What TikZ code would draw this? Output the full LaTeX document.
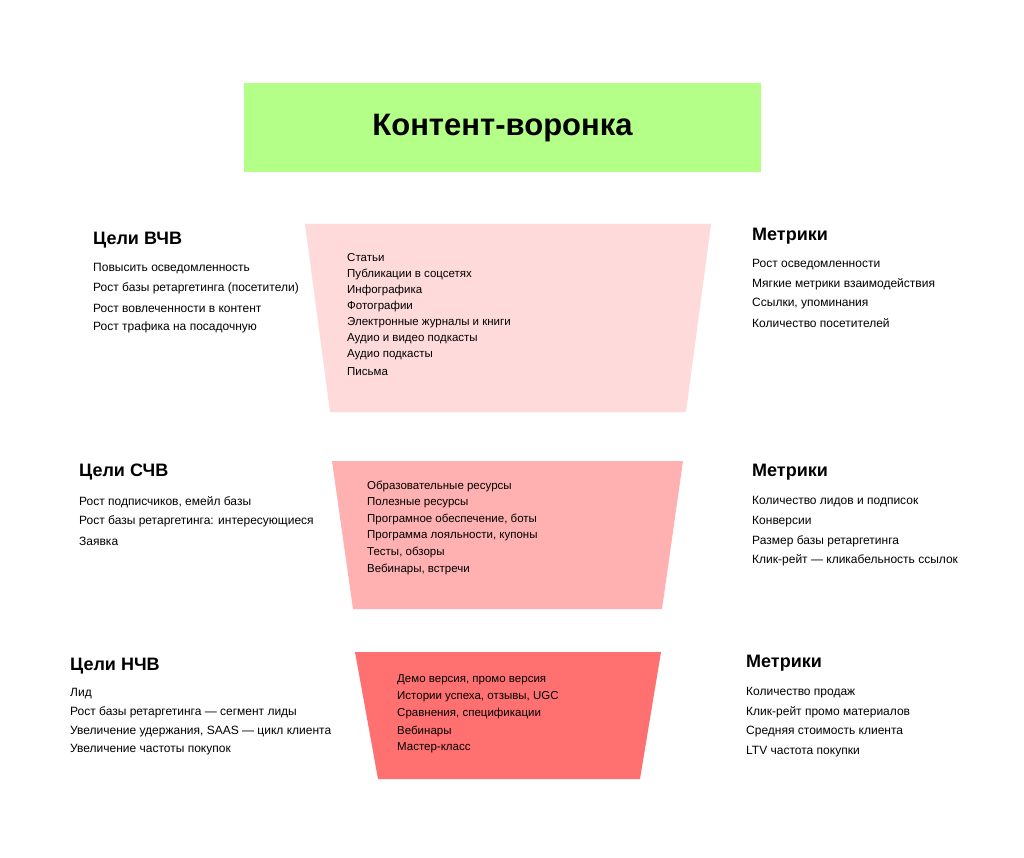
\documentclass[tikz,border=0pt]{standalone}
\usepackage{fontspec}
\setmainfont{Liberation Sans}
\begin{document}
\begin{tikzpicture}[x=1pt,y=-1pt,
 item/.style={anchor=west,inner sep=0pt,font=\fontsize{12}{14}\selectfont},
 fitem/.style={anchor=west,inner sep=0pt,font=\fontsize{11.5}{13}\selectfont},
 head/.style={anchor=west,inner sep=0pt,font=\fontsize{18}{20}\selectfont\bfseries}]
\useasboundingbox (0,0) rectangle (1024,858);
\fill[fill=white] (0,0) rectangle (1024,858);
\definecolor{tg}{HTML}{B3FF88}
\definecolor{f1}{HTML}{FFDADA}
\definecolor{f2}{HTML}{FFB0B0}
\definecolor{f3}{HTML}{FF7070}
\fill[tg] (244,83) rectangle (761,172);
\node[inner sep=0pt,font=\fontsize{31}{34}\selectfont\bfseries] (title) at (502.5,128) {Контент-воронка};
\fill[f1] (305,224) -- (711,224) -- (686,412) -- (330,412) -- cycle;
\fill[f2] (332,461) -- (683,461) -- (662,609) -- (353,609) -- cycle;
\fill[f3] (355,652) -- (661,652) -- (640,779) -- (378,779) -- cycle;
% top
\node[head] (h1) at (93,240) {Цели ВЧВ};
\foreach \t [count=\i] in {Повысить осведомленность,Рост базы ретаргетинга (посетители),Рост вовлеченности в контент,Рост трафика на посадочную}
 \node[item] (l1\i) at (93,{269+(\i-1)*19.6}) {\t};
\node[head] (m1) at (752,236) {Метрики};
\foreach \t [count=\i] in {Рост осведомленности,Мягкие метрики взаимодействия,{Ссылки, упоминания},Количество посетителей}
 \node[item] (r1\i) at (752,{265+(\i-1)*19.4}) {\t};
\foreach \t [count=\i] in {Статьи,Публикации в соцсетях,Инфографика,Фотографии,Электронные журналы и книги,Аудио и видео подкасты,Аудио подкасты,Письма}
 \node[fitem] (c1\i) at (347,{258+(\i-1)*16.2}) {\t};
% middle
\node[head] (h2) at (79,472) {Цели СЧВ};
\foreach \t [count=\i] in {{Рост подписчиков, емейл базы},Рост базы ретаргетинга: интересующиеся,Заявка}
 \node[item] (l2\i) at (79,{502+(\i-1)*19.5}) {\t};
\node[head] (m2) at (752,472) {Метрики};
\foreach \t [count=\i] in {Количество лидов и подписок,Конверсии,Размер базы ретаргетинга,Клик-рейт — кликабельность ссылок}
 \node[item] (r2\i) at (752,{502+(\i-1)*19.5}) {\t};
\foreach \t [count=\i] in {Образовательные ресурсы,Полезные ресурсы,{Програмное обеспечение, боты},{Программа лояльности, купоны},{Тесты, обзоры},{Вебинары, встречи}}
 \node[fitem] (c2\i) at (367,{486+(\i-1)*16.6}) {\t};
% bottom
\node[head] (h3) at (70,666) {Цели НЧВ};
\foreach \t [count=\i] in {Лид,Рост базы ретаргетинга — сегмент лиды,{Увеличение удержания, SAAS — цикл клиента},Увеличение частоты покупок}
 \node[item] (l3\i) at (70,{694+(\i-1)*18.7}) {\t};
\node[head] (m3) at (746,663) {Метрики};
\foreach \t [count=\i] in {Количество продаж,Клик-рейт промо материалов,Средняя стоимость клиента,LTV частота покупки}
 \node[item] (r3\i) at (746,{693+(\i-1)*19.4}) {\t};
\foreach \t [count=\i] in {{Демо версия, промо версия},{Истории успеха, отзывы, UGC},{Сравнения, спецификации},Вебинары,Мастер-класс}
 \node[fitem] (c3\i) at (397,{680+(\i-1)*17}) {\t};
\end{tikzpicture}
\end{document}
